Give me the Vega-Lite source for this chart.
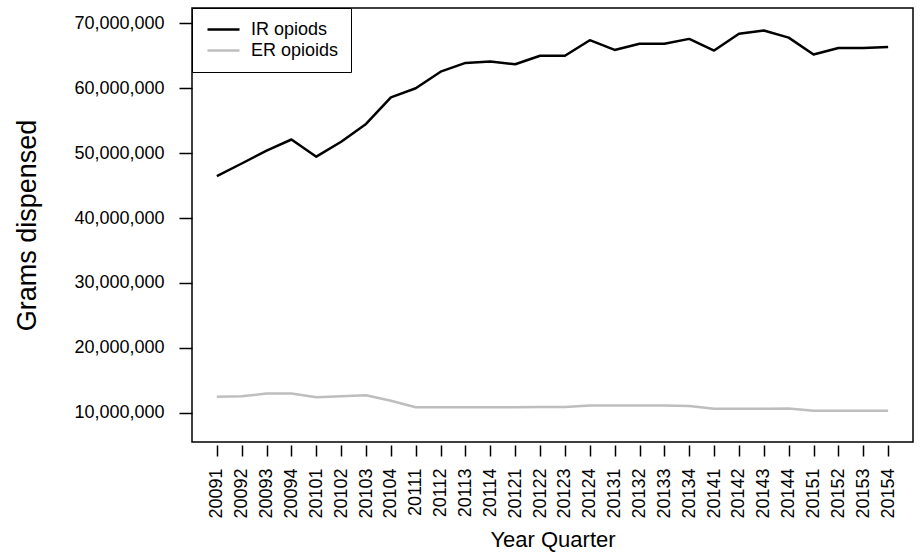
{
  "$schema": "https://vega.github.io/schema/vega-lite/v6.json",
  "width": 721,
  "height": 434,
  "autosize": "none",
  "padding": {"left": 192, "top": 8, "right": 8, "bottom": 110},
  "background": "white",
  "data": {
    "values": [
      {"quarter": "20091", "series": "IR opiods", "grams": 46470000},
      {"quarter": "20092", "series": "IR opiods", "grams": 48400000},
      {"quarter": "20093", "series": "IR opiods", "grams": 50400000},
      {"quarter": "20094", "series": "IR opiods", "grams": 52100000},
      {"quarter": "20101", "series": "IR opiods", "grams": 49450000},
      {"quarter": "20102", "series": "IR opiods", "grams": 51760000},
      {"quarter": "20103", "series": "IR opiods", "grams": 54500000},
      {"quarter": "20104", "series": "IR opiods", "grams": 58600000},
      {"quarter": "20111", "series": "IR opiods", "grams": 60000000},
      {"quarter": "20112", "series": "IR opiods", "grams": 62550000},
      {"quarter": "20113", "series": "IR opiods", "grams": 63900000},
      {"quarter": "20114", "series": "IR opiods", "grams": 64100000},
      {"quarter": "20121", "series": "IR opiods", "grams": 63700000},
      {"quarter": "20122", "series": "IR opiods", "grams": 65000000},
      {"quarter": "20123", "series": "IR opiods", "grams": 65000000},
      {"quarter": "20124", "series": "IR opiods", "grams": 67400000},
      {"quarter": "20131", "series": "IR opiods", "grams": 65900000},
      {"quarter": "20132", "series": "IR opiods", "grams": 66860000},
      {"quarter": "20133", "series": "IR opiods", "grams": 66860000},
      {"quarter": "20134", "series": "IR opiods", "grams": 67600000},
      {"quarter": "20141", "series": "IR opiods", "grams": 65800000},
      {"quarter": "20142", "series": "IR opiods", "grams": 68400000},
      {"quarter": "20143", "series": "IR opiods", "grams": 68900000},
      {"quarter": "20144", "series": "IR opiods", "grams": 67800000},
      {"quarter": "20151", "series": "IR opiods", "grams": 65200000},
      {"quarter": "20152", "series": "IR opiods", "grams": 66200000},
      {"quarter": "20153", "series": "IR opiods", "grams": 66200000},
      {"quarter": "20154", "series": "IR opiods", "grams": 66350000},
      {"quarter": "20091", "series": "ER opioids", "grams": 12470000},
      {"quarter": "20092", "series": "ER opioids", "grams": 12550000},
      {"quarter": "20093", "series": "ER opioids", "grams": 12950000},
      {"quarter": "20094", "series": "ER opioids", "grams": 12950000},
      {"quarter": "20101", "series": "ER opioids", "grams": 12370000},
      {"quarter": "20102", "series": "ER opioids", "grams": 12550000},
      {"quarter": "20103", "series": "ER opioids", "grams": 12700000},
      {"quarter": "20104", "series": "ER opioids", "grams": 11850000},
      {"quarter": "20111", "series": "ER opioids", "grams": 10850000},
      {"quarter": "20112", "series": "ER opioids", "grams": 10850000},
      {"quarter": "20113", "series": "ER opioids", "grams": 10850000},
      {"quarter": "20114", "series": "ER opioids", "grams": 10850000},
      {"quarter": "20121", "series": "ER opioids", "grams": 10850000},
      {"quarter": "20122", "series": "ER opioids", "grams": 10900000},
      {"quarter": "20123", "series": "ER opioids", "grams": 10900000},
      {"quarter": "20124", "series": "ER opioids", "grams": 11100000},
      {"quarter": "20131", "series": "ER opioids", "grams": 11100000},
      {"quarter": "20132", "series": "ER opioids", "grams": 11100000},
      {"quarter": "20133", "series": "ER opioids", "grams": 11100000},
      {"quarter": "20134", "series": "ER opioids", "grams": 11050000},
      {"quarter": "20141", "series": "ER opioids", "grams": 10600000},
      {"quarter": "20142", "series": "ER opioids", "grams": 10600000},
      {"quarter": "20143", "series": "ER opioids", "grams": 10600000},
      {"quarter": "20144", "series": "ER opioids", "grams": 10650000},
      {"quarter": "20151", "series": "ER opioids", "grams": 10300000},
      {"quarter": "20152", "series": "ER opioids", "grams": 10300000},
      {"quarter": "20153", "series": "ER opioids", "grams": 10300000},
      {"quarter": "20154", "series": "ER opioids", "grams": 10300000}
    ]
  },
  "mark": {"type": "line", "strokeWidth": 2.5, "strokeJoin": "round"},
  "encoding": {
    "x": {
      "field": "quarter",
      "type": "ordinal",
      "scale": {"type": "point", "padding": 1.08},
      "axis": {
        "title": "Year Quarter",
        "titleFontSize": 22,
        "titlePadding": 11,
        "labelAngle": 270,
        "labelFontSize": 18,
        "labelPadding": 12,
        "labelOverlap": false,
        "tickSize": 11,
        "offset": 3,
        "domain": false
      }
    },
    "y": {
      "field": "grams",
      "type": "quantitative",
      "scale": {"domain": [5490000, 72360000], "nice": false, "zero": false},
      "axis": {
        "title": "Grams dispensed",
        "titleFontSize": 27,
        "titlePadding": 32,
        "values": [10000000, 20000000, 30000000, 40000000, 50000000, 60000000, 70000000],
        "format": ",d",
        "labelFontSize": 18,
        "labelPadding": 15,
        "tickSize": 13,
        "grid": false,
        "domain": false
      }
    },
    "color": {
      "field": "series",
      "type": "nominal",
      "sort": ["IR opiods", "ER opioids"],
      "scale": {"domain": ["IR opiods", "ER opioids"], "range": ["black", "#bebebe"]},
      "legend": {
        "title": null,
        "orient": "top-left",
        "offset": 0,
        "padding": 12,
        "strokeColor": "black",
        "fillColor": "white",
        "symbolType": "M-2,0L2,0",
        "symbolSize": 256,
        "symbolOffset": 10,
        "symbolStrokeWidth": 2.5,
        "labelFontSize": 18,
        "labelOffset": 18,
        "rowPadding": 2
      }
    }
  },
  "config": {
    "font": "Liberation Sans",
    "view": {"stroke": "black", "strokeWidth": 1.5},
    "axis": {
      "labelColor": "black",
      "titleColor": "black",
      "tickColor": "black",
      "tickWidth": 1.5,
      "titleFontWeight": "normal",
      "labelFont": "Liberation Sans",
      "titleFont": "Liberation Sans"
    },
    "legend": {"labelColor": "black", "labelFont": "Liberation Sans"}
  }
}
